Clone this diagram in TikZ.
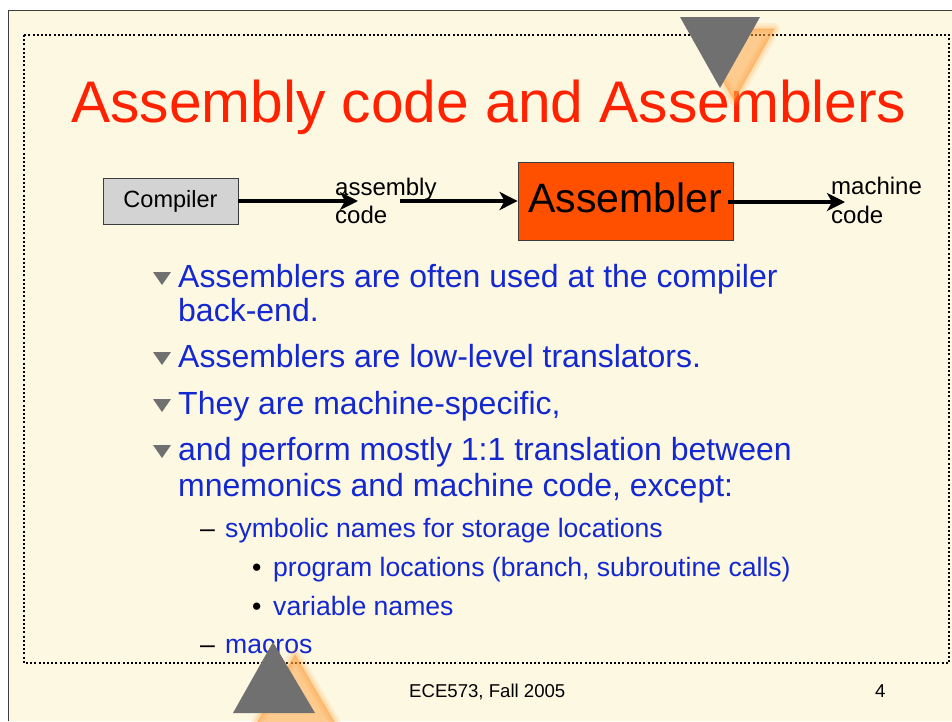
\documentclass[tikz,border=0pt]{standalone}
\usepackage{fontspec}
\setmainfont{Liberation Sans}
\usetikzlibrary{arrows.meta}
\definecolor{cream}{RGB}{253,248,226}
\definecolor{titlered}{RGB}{255,34,0}
\definecolor{textblue}{RGB}{20,40,210}
\definecolor{compgray}{RGB}{211,211,211}
\definecolor{asmfill}{RGB}{255,80,0}
\definecolor{trigray}{RGB}{112,112,112}
\definecolor{shadoworange}{RGB}{255,160,60}
\definecolor{bordergray}{RGB}{60,60,60}
\begin{document}
\begin{tikzpicture}[x=1pt,y=-1pt,
  txtbase/.style={inner sep=0pt, anchor=base west, text=textblue},
  maintxt/.style={txtbase, font=\fontsize{32}{36}\selectfont},
  subtxt/.style={txtbase, font=\fontsize{26.6}{30}\selectfont},
  dashmark/.style={inner sep=0pt, anchor=base west, text=black, font=\fontsize{26.6}{30}\selectfont},
  lbltxt/.style={inner sep=0pt, anchor=base west, text=black, font=\fontsize{24}{28}\selectfont},
  arrowline/.style={line width=4.5pt, -{Stealth[length=18pt,width=18pt,inset=5pt]}},
  dotframe/.style={line width=2pt, dash pattern=on 2pt off 2.2pt},
  pics/tribullet/.style={code={\fill[trigray] (-9,-15) -- (9,-15) -- (0,-2) -- cycle;}}
]
\useasboundingbox (0,0) rectangle (952,721);
\fill[white] (0,0) rectangle (952,721);
\fill[cream] (8,10) rectangle (952,721);
\draw[bordergray, line width=1pt] (8,721) -- (8,10) -- (952,10);
\draw[dotframe] (24,35) rectangle (949,663);

% title
\node[inner sep=0pt, anchor=base west, text=titlered, font=\fontsize{58.7}{62}\selectfont] (title) at (71,122) {Assembly code and Assemblers};

% diagram
\node[draw=bordergray, line width=0.8pt, fill=compgray, minimum width=135pt, minimum height=46pt, inner sep=0pt, font=\fontsize{23.5}{26}\selectfont] (comp) at (170.5,201) {Compiler};
\node[draw=bordergray, line width=0.8pt, fill=asmfill, minimum width=215pt, minimum height=78pt, inner sep=0pt] (asm) at (625.5,201) {};
\node[inner sep=0pt, anchor=base west, font=\fontsize{41}{44}\selectfont] (asmtext) at (528,212) {Assembler};
\coordinate (t1) at (358,201);
\coordinate (s2) at (400,201);
\coordinate (s3) at (728,202);
\coordinate (t3) at (845,202);
\node[lbltxt] (ac1) at (335,195) {assembly};
\node[lbltxt] (ac2) at (335,223) {code};
\node[lbltxt] (mc1) at (831,194) {machine};
\node[lbltxt] (mc2) at (831,223) {code};
\draw[arrowline] (comp.east) -- (t1);
\draw[arrowline] (s2) -- (asm.west);
\draw[arrowline] (s3) -- (t3);

% bullets
\pic at (162,287) {tribullet};
\node[maintxt] (b1a) at (178,287) {Assemblers are often used at the compiler};
\node[maintxt] (b1b) at (178,321) {back-end.};
\pic at (162,367) {tribullet};
\node[maintxt] (b2) at (178,367) {Assemblers are low-level translators.};
\pic at (162,414) {tribullet};
\node[maintxt] (b3) at (178,414) {They are machine-specific,};
\pic at (162,460) {tribullet};
\node[maintxt] (b4a) at (178,460) {and perform mostly 1:1 translation between};
\node[maintxt] (b4b) at (178,496) {mnemonics and machine code, except:};

\node[dashmark] (d1) at (200,537) {–};
\node[subtxt] (s1) at (225,537) {symbolic names for storage locations};
\node[dashmark] (p1) at (252,576) {•};
\node[subtxt] (ss1) at (273,576) {program locations (branch, subroutine calls)};
\node[dashmark] (p2) at (252,615) {•};
\node[subtxt] (ss2) at (273,615) {variable names};
\node[dashmark] (d2) at (200,653) {–};
\node[subtxt] (s2t) at (225,653) {macros};

% footer
\node[inner sep=0pt, anchor=base west, font=\fontsize{18.6}{20}\selectfont] (foot) at (409,697) {ECE573, Fall 2005};
\node[inner sep=0pt, anchor=base west, font=\fontsize{18.6}{20}\selectfont] (pg) at (875,697) {4};

% decorative triangles with soft shadows
\foreach \w/\o in {12/0.12, 7/0.18, 2/0.3}{
  \filldraw[shadoworange, opacity=\o, line width=\w pt, line join=round] (694,29) -- (774,29) -- (734,100) -- cycle;
  \filldraw[shadoworange, opacity=\o, line width=\w pt, line join=round] (255,727) -- (295,655) -- (337,727) -- cycle;
}
\fill[trigray] (680,17) -- (760,17) -- (720,88) -- cycle;
\fill[trigray] (233,713) -- (273,642) -- (315,713) -- cycle;
\end{tikzpicture}
\end{document}
